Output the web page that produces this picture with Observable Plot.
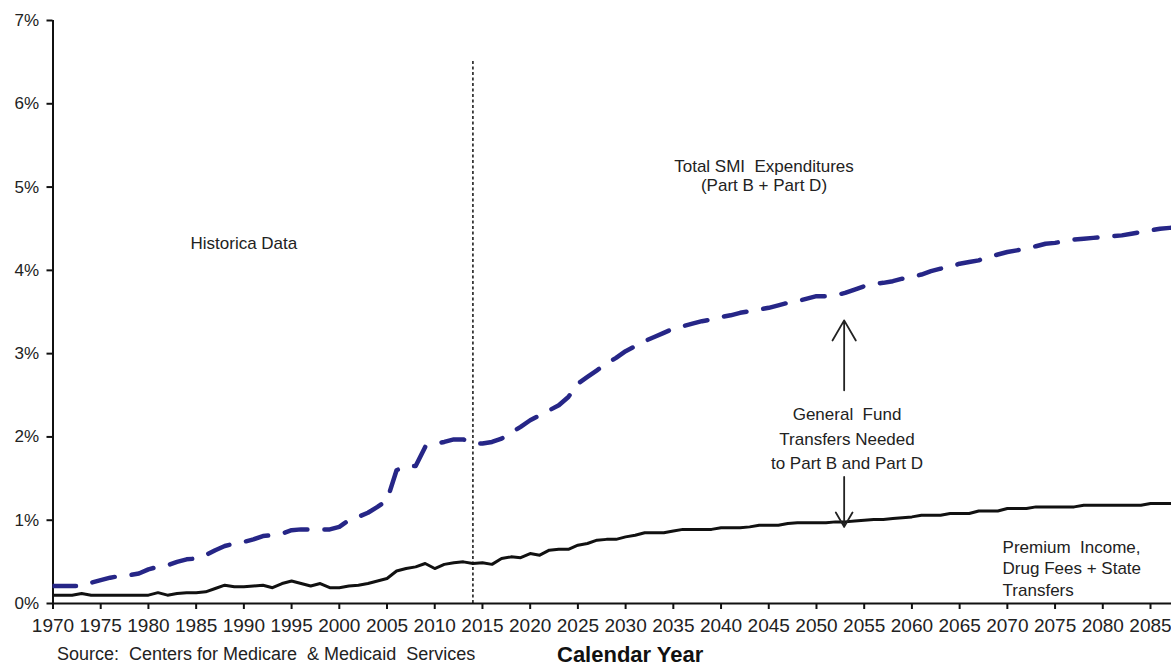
<!DOCTYPE html>
<html><head><meta charset="utf-8">
<script src="https://cdn.jsdelivr.net/npm/d3@7"></script>
<script src="https://cdn.jsdelivr.net/npm/@observablehq/plot@0.6"></script>
<style>
html,body{margin:0;padding:0;background:#fff;overflow:hidden;}
#wrap{position:relative;width:1171px;height:666px;font-family:"Liberation Sans",Arial,sans-serif;}
#src{position:absolute;left:57px;top:645px;font-size:18px;line-height:18px;color:#222;white-space:pre;}
#xl{position:absolute;left:557px;top:644px;font-size:22px;line-height:22px;font-weight:bold;color:#111;}
</style></head><body>
<div id="wrap"><div id="chart"></div>
<div id="src">Source:  Centers for Medicare  &amp; Medicaid  Services</div>
<div id="xl">Calendar Year</div></div>
<script>
const firstYear = 1970;
// Total SMI expenditures (% of GDP), 1970..2088
const totalSMI = [
  0.21,0.21,0.21,0.21,0.25,0.28,0.31,0.33,0.34,0.36,
  0.41,0.44,0.46,0.50,0.53,0.54,0.58,0.64,0.69,0.72,
  0.74,0.77,0.81,0.82,0.84,0.88,0.89,0.89,0.89,0.89,
  0.92,1.00,1.04,1.09,1.16,1.24,1.60,1.65,1.65,1.88,
  1.92,1.94,1.97,1.97,1.92,1.92,1.94,1.98,2.05,2.12,
  2.20,2.26,2.32,2.38,2.48,2.64,2.72,2.80,2.88,2.95,
  3.03,3.09,3.15,3.20,3.25,3.30,3.33,3.36,3.39,3.41,
  3.44,3.46,3.49,3.51,3.53,3.55,3.58,3.61,3.63,3.66,
  3.69,3.69,3.70,3.73,3.77,3.81,3.84,3.85,3.87,3.90,
  3.92,3.95,3.99,4.02,4.04,4.08,4.10,4.12,4.16,4.19,
  4.22,4.24,4.26,4.29,4.32,4.33,4.35,4.37,4.38,4.39,
  4.40,4.41,4.42,4.44,4.46,4.48,4.50,4.51,4.52
];
// Premium income, drug fees + state transfers (% of GDP), 1970..2088
const premiumIncome = [
  0.10,0.10,0.10,0.12,0.10,0.10,0.10,0.10,0.10,0.10,
  0.10,0.13,0.10,0.12,0.13,0.13,0.14,0.18,0.22,0.20,
  0.20,0.21,0.22,0.19,0.24,0.27,0.24,0.21,0.24,0.19,
  0.19,0.21,0.22,0.24,0.27,0.30,0.39,0.42,0.44,0.48,
  0.42,0.47,0.49,0.50,0.48,0.49,0.47,0.54,0.56,0.55,
  0.60,0.58,0.64,0.65,0.65,0.70,0.72,0.76,0.77,0.77,
  0.80,0.82,0.85,0.85,0.85,0.87,0.89,0.89,0.89,0.89,
  0.91,0.91,0.91,0.92,0.94,0.94,0.94,0.96,0.97,0.97,
  0.97,0.97,0.98,0.98,0.99,1.00,1.01,1.01,1.02,1.03,
  1.04,1.06,1.06,1.06,1.08,1.08,1.08,1.11,1.11,1.11,
  1.14,1.14,1.14,1.16,1.16,1.16,1.16,1.16,1.18,1.18,
  1.18,1.18,1.18,1.18,1.18,1.20,1.20,1.20,1.20
];
const xTicks = [1970,1975,1980,1985,1990,1995,2000,2005,2010,2015,2020,2025,2030,2035,2040,2045,2050,2055,2060,2065,2070,2075,2080,2085];
const yTicks = [0,1,2,3,4,5,6,7];
const lastHistoricalYear = [2014];

const rows = totalSMI.map((v, i) => ({year: firstYear + i, total: v, premium: premiumIncome[i]}));

const font = "Liberation Sans, Arial, sans-serif";
const plot = Plot.plot({
  width: 1171, height: 642,
  marginLeft: 52.5, marginRight: 0, marginTop: 20, marginBottom: 39,
  style: {fontFamily: font, color: "#222", background: "#fff", overflow: "visible"},
  x: {domain: [1970, 2087.2]},
  y: {domain: [0, 7]},
  marks: [
    Plot.axisY({ticks: yTicks, tickFormat: d => d + "%", tickSize: 6, tickPadding: 8, fontSize: 17, label: null, strokeWidth: 2, stroke: "#111"}),
    Plot.axisX({ticks: xTicks, tickFormat: d => String(d), tickSize: 6, tickPadding: 9, fontSize: 19, label: null, strokeWidth: 2, stroke: "#111"}),
    Plot.ruleY([0], {stroke: "#111", strokeWidth: 2}),
    Plot.ruleX([1970], {y1: 0, y2: 7, stroke: "#111", strokeWidth: 2}),
    Plot.ruleX(lastHistoricalYear, {y1: 0, y2: 6.52, stroke: "#111", strokeWidth: 1.5, strokeDasharray: "3,2.5"}),
    Plot.line(rows, {x: "year", y: "premium", stroke: "#111", strokeWidth: 3, clip: true}),
    Plot.line(rows, {x: "year", y: "total", stroke: "#262687", strokeWidth: 4.5, strokeDasharray: "23,17", strokeLinecap: "round", clip: true}),
    Plot.arrow([{x: 2052.9, a: 2.56, b: 3.40}, {x: 2052.9, a: 1.52, b: 0.92}], {x1: "x", x2: "x", y1: "a", y2: "b", stroke: "#222", strokeWidth: 1.8, headLength: 20, headAngle: 60}),
    Plot.text(["Historica Data"], {x: 1990, y: 4.32, fontSize: 17, fill: "#222"}),
    Plot.text(["Total SMI  Expenditures\n(Part B + Part D)"], {x: 2044.5, y: 5.14, fontSize: 17, lineHeight: 1.12, fill: "#222"}),
    Plot.text(["General  Fund\nTransfers Needed\nto Part B and Part D"], {x: 2053.2, y: 2.0, fontSize: 17, lineHeight: 1.45, fill: "#222"}),
    Plot.text(["Premium  Income,\nDrug Fees + State\nTransfers"], {x: 2069.5, y: 0.43, fontSize: 17, lineHeight: 1.25, textAnchor: "start", fill: "#222"})
  ]
});
document.getElementById("chart").appendChild(plot);
</script>
</body></html>
